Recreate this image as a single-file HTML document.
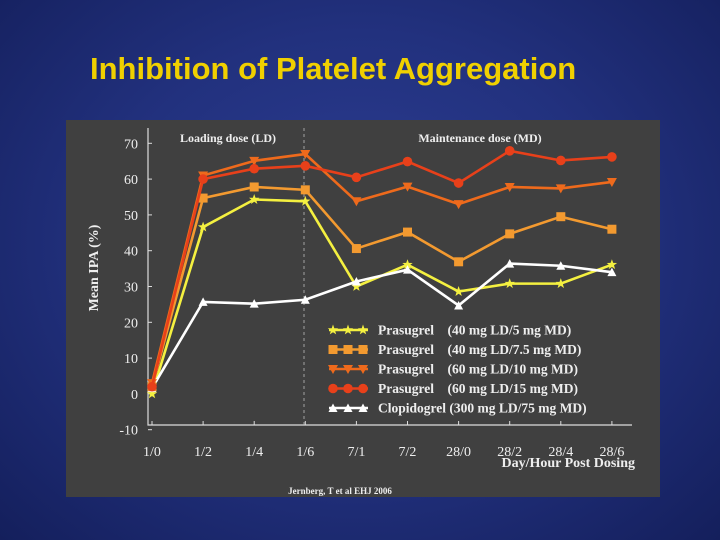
<!DOCTYPE html>
<html><head><meta charset="utf-8"><style>
html,body{margin:0;padding:0;width:720px;height:540px;overflow:hidden}
body{background:radial-gradient(ellipse at 50% 45%,#2c3d92 0%,#22317e 50%,#141f5c 100%);}
#title{position:absolute;left:90px;top:51px;color:#f0d000;font:bold 31px "Liberation Sans",sans-serif;letter-spacing:0px}
svg{position:absolute;left:0;top:0}
</style></head><body>
<div id="title">Inhibition of Platelet Aggregation</div>
<svg id="chart" width="720" height="540"></svg>
<script>
const categories=["1/0","1/2","1/4","1/6","7/1","7/2","28/0","28/2","28/4","28/6"];
const yTicks=[70,60,50,40,30,20,10,0,-10];
const seriesNames=["Prasugrel    (40 mg LD/5 mg MD)","Prasugrel    (40 mg LD/7.5 mg MD)","Prasugrel    (60 mg LD/10 mg MD)","Prasugrel    (60 mg LD/15 mg MD)","Clopidogrel (300 mg LD/75 mg MD)"];
const pras5=[0,46.6,54.3,53.8,30,36.1,28.6,30.8,30.8,36.1];
const pras75=[2,54.7,57.8,57,40.6,45.2,36.9,44.7,49.5,46];
const pras10=[3,61,65.1,67,53.8,57.9,53,57.8,57.4,59.2];
const pras15=[2,60,62.9,63.7,60.5,64.9,58.9,67.9,65.2,66.2];
const clop=[1.6,25.7,25.2,26.3,31.4,34.7,24.7,36.4,35.8,34];
const svg=document.getElementById('chart');
const NS='http://www.w3.org/2000/svg';
function mk(t,a,p){const e=document.createElementNS(NS,t);for(const k in a)e.setAttribute(k,a[k]);(p||svg).appendChild(e);return e;}
const xS=i=>152+i*51.1;
const yS=v=>393.9-v*3.58;
const bg=mk('rect',{x:66,y:120,width:594,height:377,fill:'#404040'});


const ax=mk('path',{d:'M148,128V425H632',stroke:'#ddd','stroke-width':1.2,fill:'none'});


mk('line',{x1:304,y1:128,x2:304,y2:425,stroke:'#bbb','stroke-width':0.8,'stroke-dasharray':'3,3'});
const f='font-family:"Liberation Serif",serif;';
function txt(x,y,s,st,anchor,name){const t=mk('text',{x:x,y:y,style:f+st,'text-anchor':anchor||'start'});t.textContent=s;return t;}
yTicks.forEach(v=>{txt(138,yS(v)+5,String(v),'font-size:14px;fill:#eee','end','y-tick-label');mk('line',{x1:148,y1:yS(v),x2:152,y2:yS(v),stroke:'#ddd'});});
categories.forEach((c,i)=>{txt(xS(i),456,c,'font-size:14px;fill:#eee','middle','x-tick-label');mk('line',{x1:xS(i),y1:425,x2:xS(i),y2:421,stroke:'#ddd'});});
const yt=txt(0,0,'Mean IPA (%)','font-size:14px;font-weight:bold;fill:#eee','middle','y-axis-title');yt.setAttribute('transform','translate(98,268) rotate(-90)');
txt(635,467,'Day/Hour Post Dosing','font-size:14px;font-weight:bold;fill:#eee','end','x-axis-title');
txt(228,142,'Loading dose (LD)','font-size:12px;font-weight:bold;fill:#eee','middle','ld-label');
txt(480,142,'Maintenance dose (MD)','font-size:12px;font-weight:bold;fill:#eee','middle','md-label');
txt(340,494,'Jernberg, T et al EHJ 2006','font-size:9px;font-weight:bold;fill:#eee','middle','citation');
function marker(type,x,y,c,g){
 if(type==='star'){let p='';for(let k=0;k<10;k++){const r=k%2?2.2:5.5,a=-Math.PI/2+k*Math.PI/5;p+=(k?'L':'M')+(x+r*Math.cos(a)).toFixed(1)+','+(y+r*Math.sin(a)).toFixed(1);}mk('path',{d:p+'Z',fill:c},g);}
 else if(type==='sq')mk('rect',{x:x-4.5,y:y-4.5,width:9,height:9,fill:c},g);
 else if(type==='tdown')mk('path',{d:`M${x-5},${y-4}H${x+5}L${x},${y+5}Z`,fill:c},g);
 else if(type==='circ')mk('circle',{cx:x,cy:y,r:4.8,fill:c},g);
 else if(type==='tup')mk('path',{d:`M${x-4.5},${y+4}H${x+4.5}L${x},${y-4.5}Z`,fill:c},g);
}
const series=[[pras5,'#f4f040','star','series-prasugrel-5'],[clop,'#ffffff','tup','series-clopidogrel'],[pras75,'#f39a30','sq','series-prasugrel-7-5'],[pras10,'#ee6a1c','tdown','series-prasugrel-10'],[pras15,'#e8401a','circ','series-prasugrel-15']];
series.forEach(([d,c,m,n])=>{const g=mk('g',{});
 mk('polyline',{points:d.map((v,i)=>xS(i)+','+yS(v)).join(' '),fill:'none',stroke:c,'stroke-width':2.6},g);
 d.forEach((v,i)=>marker(m,xS(i),yS(v),c,g));});
const leg=[['#f4f040','star'],['#f39a30','sq'],['#ee6a1c','tdown'],['#e8401a','circ'],['#ffffff','tup']];
leg.forEach(([c,m],i)=>{const y=330+i*19.5;const g=mk('g',{});
 mk('line',{x1:329,y1:y,x2:368,y2:y,stroke:c,'stroke-width':2.6},g);[333,348,363].forEach(x=>marker(m,x,y,c,g));
 const t=mk('text',{x:378,y:y+4.5,style:f+'font-size:13.5px;font-weight:bold;fill:#eee;white-space:pre'},g);t.textContent=seriesNames[i];});
</script>
</body></html>
